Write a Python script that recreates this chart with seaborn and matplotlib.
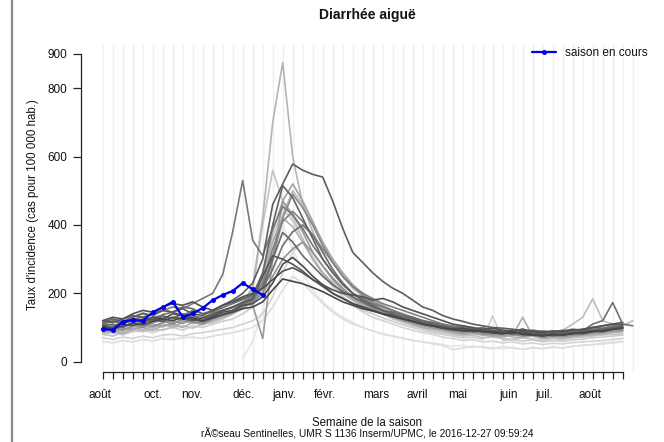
import numpy as np
import pandas as pd
import matplotlib
matplotlib.use("Agg")
import matplotlib.pyplot as plt
from matplotlib.lines import Line2D
import seaborn as sns

NaN = np.nan

# ---------------- data (weeks of the season, index 0 = first week of August) ----------------
weeks = list(range(54))
tick_weeks = list(range(53))
grid_weeks = list(range(54))

month_labels = ["août", "oct.", "nov.", "déc.", "janv.", "févr.", "mars", "avril",
                "mai", "juin", "juil.", "août"]
month_pos = [-0.3, 5.05, 8.9, 14.05, 18.2, 22.2, 27.4, 31.5, 35.5, 40.6, 44.2, 48.7]

y_ticks = [0, 200, 400, 600, 800, 900]

current_season = [95, 93, 117, 122, 120, 144, 159, 175, 131, 141, 157, 180, 195, 207, 230, 212, 195]

s01 = [105, 98, 112, 120, 118, 130, 125, 140, 135, 128, 120, 132, 145, 150, 165, 170, 190, 230, 285, 305, 280, 250, 225, 200, 185, 170, 160, 150, 140, 135, 125, 118, 110, 105, 100, 95, 98, 92, 88, 90, 85, 82, 88, 80, 76, 80, 78, 84, 82, 88, 90, 95, 100]
s02 = [120, 115, 125, 135, 130, 140, 150, 145, 155, 140, 135, 150, 165, 180, 200, 230, 300, 460, 520, 578, 560, 548, 540, 470, 390, 320, 290, 260, 235, 215, 200, 180, 160, 150, 135, 125, 118, 110, 105, 100, 98, 95, 90, 92, 88, 85, 90, 95, 92, 100, 105, 110, 108]
s03 = [110, 120, 115, 130, 140, 135, 150, 160, 155, 170, 185, 200, 255, 380, 530, 355, 310, 390, 455, 430, 390, 340, 300, 260, 230, 200, 185, 170, 160, 150, 140, 130, 120, 115, 110, 100, 105, 95, 100, 92, 90, 88, 95, 85, 90, 88, 92, 85, 95, 100, 98, 105, 110]
s04 = [90, 85, 95, 100, 92, 105, 110, 100, 115, 120, 110, 125, 140, 150, 170, 220, 420, 700, 875, 600, 460, 380, 320, 270, 230, 200, 180, 165, 150, 140, 125, 115, 105, 100, 95, 85, 80, 85, 78, 75, 80, 72, 70, 75, 68, 72, 70, 75, 80, 78, 82, 85, 90]
s05 = [80, 75, 85, 90, 88, 95, 92, 100, 105, 98, 110, 115, 125, 140, 160, 210, 400, 560, 470, 420, 360, 300, 260, 230, 200, 180, 160, 150, 140, 125, 115, 105, 98, 90, 85, 80, 75, 78, 70, 72, 68, 65, 70, 66, 62, 68, 65, 70, 72, 75, 78, 80, 82]
s06 = [115, 125, 118, 130, 142, 135, 150, 145, 160, 155, 140, 150, 165, 175, 185, 195, 260, 400, 515, 480, 420, 360, 300, 260, 225, 200, 180, 165, 150, 140, 130, 125, 115, 110, 105, 100, 95, 98, 92, 88, 90, 85, 82, 88, 80, 78, 82, 85, 88, 92, 95, 100, 105]
s07 = [100, 95, 105, 110, 100, 115, 120, 110, 125, 118, 112, 125, 135, 145, 160, 175, 200, 300, 420, 490, 450, 400, 340, 290, 250, 220, 195, 175, 160, 150, 135, 125, 115, 108, 100, 95, 90, 92, 85, 82, 88, 80, 78, 82, 75, 80, 78, 82, 85, 88, 90, 95, 98]
s08 = [95, 105, 100, 110, 120, 115, 125, 130, 120, 135, 130, 140, 150, 160, 170, 165, 68, 300, 470, 430, 380, 320, 280, 240, 210, 185, 170, 155, 140, 130, 120, 112, 105, 100, 95, 90, 85, 88, 82, 80, 85, 78, 75, 80, 72, 75, 78, 80, 82, 85, 88, 92, 95]
s09 = [110, 105, 115, 125, 120, 130, 135, 125, 140, 130, 125, 135, 150, 160, 175, 190, 230, 330, 410, 440, 410, 370, 330, 290, 250, 220, 200, 185, 170, 160, 150, 140, 130, 120, 110, 105, 100, 95, 90, 92, 88, 85, 90, 82, 80, 85, 82, 88, 90, 95, 98, 102, 105]
s10 = [85, 90, 82, 95, 100, 92, 105, 110, 100, 115, 108, 120, 130, 140, 155, 175, 240, 350, 420, 395, 350, 300, 260, 230, 200, 180, 165, 150, 140, 130, 120, 110, 100, 95, 90, 85, 80, 82, 78, 75, 72, 78, 130, 74, 68, 72, 70, 74, 76, 80, 82, 86, 88]
s11 = [105, 110, 100, 115, 125, 120, 132, 128, 140, 135, 125, 138, 150, 158, 170, 180, 220, 300, 378, 350, 310, 280, 250, 225, 205, 190, 175, 160, 150, 145, 135, 130, 120, 112, 105, 100, 98, 92, 95, 88, 85, 90, 82, 80, 85, 78, 80, 84, 86, 90, 92, 96, 100]
s12 = [95, 100, 110, 105, 115, 125, 118, 130, 125, 120, 128, 140, 150, 160, 172, 185, 250, 310, 300, 285, 265, 240, 220, 200, 185, 170, 160, 150, 140, 132, 125, 118, 110, 105, 100, 95, 92, 88, 90, 85, 82, 86, 80, 78, 82, 76, 80, 82, 85, 88, 92, 95, 100]
s13 = [100, 95, 105, 112, 108, 118, 125, 120, 130, 125, 118, 128, 138, 145, 155, 160, 175, 210, 242, 235, 228, 217, 205, 190, 175, 165, 155, 148, 140, 132, 125, 118, 110, 105, 98, 95, 90, 92, 88, 85, 82, 88, 80, 78, 75, 80, 78, 82, 85, 90, 88, 95, 98]
s14 = [120, 130, 125, 140, 150, 145, 160, 170, 165, 175, 160, 150, 165, 175, 190, 200, 215, 240, 265, 275, 260, 240, 225, 210, 200, 195, 190, 180, 185, 175, 160, 150, 140, 130, 120, 110, 105, 100, 95, 98, 92, 90, 95, 88, 85, 90, 88, 92, 95, 100, 105, 110, 115]
s15 = [70, 65, 72, 68, 75, 70, 78, 80, 75, 82, 85, 90, 95, 100, 110, 120, 140, 190, 260, 320, 350, 310, 260, 220, 190, 165, 145, 130, 120, 110, 100, 92, 85, 80, 72, 68, 62, 65, 58, 60, 55, 58, 52, 55, 50, 54, 52, 56, 58, 60, 62, 65, 68]
s16 = [60, 55, 62, 58, 65, 60, 68, 65, 70, 72, 68, 75, 80, 85, 92, 100, 120, 160, 210, 250, 230, 200, 170, 145, 125, 110, 100, 90, 80, 75, 68, 62, 58, 52, 48, 35, 40, 45, 42, 38, 45, 40, 36, 42, 38, 44, 40, 45, 48, 50, 52, 55, 58]
s17 = [NaN, NaN, NaN, NaN, NaN, NaN, NaN, NaN, NaN, NaN, NaN, NaN, NaN, NaN, 10, 60, 150, 280, 400, 330, 260, 210, 175, 150, 130, 115, 100, 90, 82, 75, 70, 62, 58, 55, 50, 45, 48, 42, 45, 40, 38, 42, 36, 40, 38, 42, 40, 45, 48, 50, 55, 58, 60]
s18 = [80, 85, 78, 88, 92, 85, 95, 100, 92, 105, 100, 110, 118, 125, 140, 160, 230, 360, 450, 410, 360, 300, 255, 220, 190, 170, 150, 140, 128, 118, 108, 100, 92, 85, 80, 75, 70, 72, 66, 134, 62, 65, 60, 64, 58, 62, 60, 64, 66, 70, 72, 75, 78]
s19 = [90, 95, 88, 100, 105, 98, 110, 105, 115, 120, 112, 125, 135, 145, 158, 175, 210, 320, 430, 500, 460, 400, 340, 290, 250, 215, 190, 170, 155, 140, 128, 118, 110, 102, 95, 88, 85, 90, 82, 80, 86, 78, 80, 84, 76, 80, 92, 110, 130, 184, 120, 110, 105, 120]
s20 = [110, 118, 112, 125, 130, 122, 138, 145, 135, 150, 140, 145, 158, 170, 182, 195, 215, 270, 340, 380, 400, 370, 320, 270, 230, 200, 180, 165, 150, 138, 128, 120, 112, 105, 98, 92, 95, 88, 90, 90, 85, 82, 88, 80, 78, 82, 85, 88, 90, 110, 120, 173, 110, 105]
s21 = [95, 100, 92, 105, 110, 102, 115, 120, 112, 125, 118, 128, 138, 150, 162, 178, 200, 250, 300, 330, 350, 320, 280, 245, 215, 190, 172, 158, 145, 135, 125, 115, 108, 100, 95, 90, 85, 88, 82, 80, 78, 82, 75, 78, 72, 76, 74, 78, 80, 84, 86, 90, 92]
s22 = [88, 92, 98, 94, 105, 110, 102, 115, 120, 112, 118, 128, 140, 150, 165, 185, 250, 380, 470, 520, 470, 410, 350, 300, 260, 225, 200, 180, 165, 150, 138, 128, 118, 110, 102, 95, 90, 92, 86, 84, 80, 84, 78, 82, 76, 80, 78, 82, 84, 88, 90, 94, 96]

season_values = {
    "s17": s17, "s16": s16, "s15": s15, "s18": s18, "s05": s05, "s19": s19,
    "s04": s04, "s10": s10, "s22": s22, "s08": s08, "s21": s21, "s07": s07,
    "s09": s09, "s03": s03, "s20": s20, "s11": s11, "s06": s06, "s02": s02,
    "s12": s12, "s14": s14, "s01": s01, "s13": s13,
}
season_grays = {
    "s17": "#e6e6e6", "s16": "#dedede", "s15": "#d4d4d4", "s18": "#cdcdcd",
    "s05": "#c4c4c4", "s19": "#bcbcbc", "s04": "#b4b4b4", "s10": "#acacac",
    "s22": "#a2a2a2", "s08": "#9a9a9a", "s21": "#929292", "s07": "#8a8a8a",
    "s09": "#808080", "s03": "#787878", "s20": "#707070", "s11": "#6a6a6a",
    "s06": "#646464", "s02": "#5e5e5e", "s12": "#585858", "s14": "#525252",
    "s01": "#4c4c4c", "s13": "#464646",
}

# ---------------- build long table ----------------
rows = []
for name, vals in season_values.items():
    for w, v in zip(weeks, vals):
        rows.append({"season": name, "week": w, "value": v})
hist = pd.DataFrame(rows).dropna()
cur = pd.DataFrame({"week": weeks[:len(current_season)], "value": current_season})

# ---------------- figure ----------------
sns.set_style("white")
plt.rcParams["font.family"] = ["Liberation Sans", "DejaVu Sans"]

W, H = 664, 442
fig = plt.figure(figsize=(W / 100, H / 100), dpi=100)

# plot region in pixels
px_l, px_r, px_t, px_b = 81, 644, 45, 372
ax = fig.add_axes([px_l / W, 1 - px_b / H, (px_r - px_l) / W, (px_b - px_t) / H])
ax.set_facecolor("none")

x0_px, x_scale = 102.7, 10.0
y0_px, y_scale = 361.7, 0.3419
ax.set_xlim((px_l - x0_px) / x_scale, (px_r - x0_px) / x_scale)
ax.set_ylim((y0_px - px_b) / y_scale, (y0_px - px_t) / y_scale)

for g in grid_weeks:
    ax.axvline(g, color="#efefef", lw=1.0, zorder=0)

sns.lineplot(data=hist, x="week", y="value", hue="season",
             hue_order=list(season_values.keys()), palette=season_grays,
             linewidth=1.2, legend=False, ax=ax, zorder=2, estimator=None, sort=False)

sns.lineplot(data=cur, x="week", y="value", color="#0000ee", linewidth=1.6,
             marker="o", markersize=3.6, markeredgewidth=0, ax=ax, zorder=5,
             label="saison en cours", estimator=None)

# R-like axes
for s in ["top", "right"]:
    ax.spines[s].set_visible(False)
ax.spines["left"].set_bounds(0, 900)
ax.spines["bottom"].set_bounds(0, 52)
for s in ["left", "bottom"]:
    ax.spines[s].set_color("#222222")
    ax.spines[s].set_linewidth(0.9)

ax.set_yticks(y_ticks)
ax.set_yticklabels([str(t) for t in y_ticks])
ax.tick_params(axis="y", left=True, direction="out", length=5.8, width=0.9,
               color="#222222", pad=4.0, labelsize=8.5, labelcolor="#111111")

ax.set_xticks(tick_weeks)
ax.set_xticklabels([])
ax.tick_params(axis="x", which="major", bottom=True, direction="out", length=5.0,
               width=0.9, color="#222222")
ax.set_xticks(month_pos, minor=True)
ax.set_xticklabels(month_labels, minor=True)
ax.tick_params(axis="x", which="minor", bottom=True, length=0, pad=12.5,
               labelsize=8.5, labelcolor="#111111")

ax.set_xlabel("")
ax.set_ylabel("")

leg = ax.legend(loc="upper left", bbox_to_anchor=(532 / W, 1 - 47 / H),
                bbox_transform=fig.transFigure, frameon=False, fontsize=8.5,
                handlelength=2.0, handletextpad=0.8, borderaxespad=0, borderpad=0)
for t in leg.get_texts():
    t.set_color("#111111")

# texts
fig.text(367 / W, 1 - 15 / H, "Diarrhée aiguë", ha="center", va="center",
         fontsize=10, fontweight="bold", color="#111111")
fig.text(33 / W, 1 - 205 / H, "Taux d'incidence (cas pour 100 000 hab.)",
         rotation=90, ha="center", va="center", fontsize=8.3, color="#111111")
fig.text(367 / W, 1 - 423 / H, "Semaine de la saison", ha="center", va="center",
         fontsize=8.3, color="#111111")
fig.text(367 / W, 1 - 434 / H,
         "rÃ©seau Sentinelles, UMR S 1136 Inserm/UPMC, le 2016-12-27 09:59:24",
         ha="center", va="center", fontsize=7.3, color="#111111")

# left page border
fig.add_artist(Line2D([12 / W, 12 / W], [0, 1], transform=fig.transFigure,
                      color="#8a8a8a", lw=1.6))

fig.savefig("out.png", dpi=100)
